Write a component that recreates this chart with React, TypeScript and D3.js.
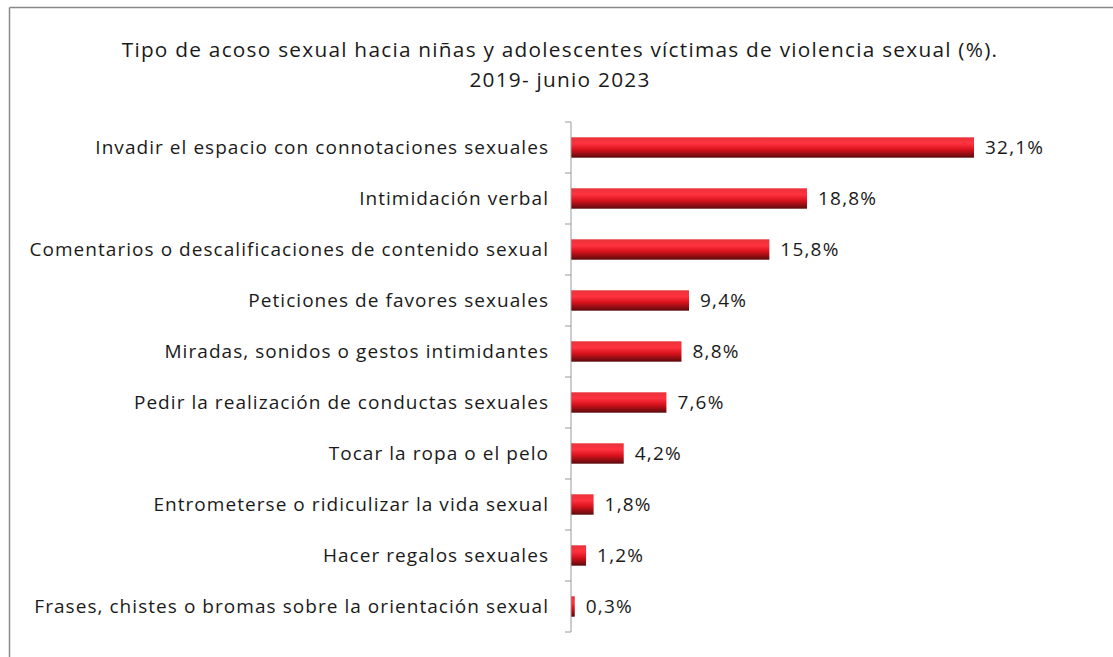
import React from "react";
import * as d3 from "d3";

const categories = [
  "Invadir el espacio con connotaciones sexuales",
  "Intimidación verbal",
  "Comentarios o descalificaciones de contenido sexual",
  "Peticiones de favores sexuales",
  "Miradas, sonidos o gestos intimidantes",
  "Pedir la realización de conductas sexuales",
  "Tocar la ropa o el pelo",
  "Entrometerse o ridiculizar la vida sexual",
  "Hacer regalos sexuales",
  "Frases, chistes o bromas sobre la orientación sexual",
];
const values = [32.1, 18.8, 15.8, 9.4, 8.8, 7.6, 4.2, 1.8, 1.2, 0.3];
const titleLines = [
  "Tipo de acoso sexual hacia niñas y adolescentes víctimas de violencia sexual (%).",
  "2019- junio 2023",
];

const W = 1113;
const H = 657;
const axisX = 571;
const top = 122;
const bottom = 632;

export default function App() {
  const x = d3.scaleLinear().domain([0, 32.1]).range([axisX, 974]);
  const y = d3.scaleBand().domain(categories).range([top, bottom]).paddingInner(0.6).paddingOuter(0.3);
  const bandStep = (bottom - top) / categories.length;
  const ticks = d3.range(categories.length + 1).map((i) => top + i * bandStep);
  const fmt = (v: number) => d3.format(".1f")(v).replace(".", ",") + "%";

  return (
    <svg
      width={W}
      height={H}
      style={{ position: "absolute", left: 0, top: 0, background: "#fff" }}
    >
      <defs>
        <linearGradient id="barGrad" x1="0" y1="0" x2="0" y2="1">
          <stop offset="0%" stopColor="#e8323a" />
          <stop offset="30%" stopColor="#ff3340" />
          <stop offset="60%" stopColor="#d8121c" />
          <stop offset="100%" stopColor="#5a0a0c" />
        </linearGradient>
      </defs>
      <rect x={0} y={0} width={W} height={H} fill="#fff" />
      <line x1={9.5} y1={7.5} x2={W} y2={7.5} stroke="#8a8a8a" strokeWidth={1.5} />
      <line x1={9.5} y1={7.5} x2={9.5} y2={H} stroke="#8a8a8a" strokeWidth={1.5} />

      {titleLines.map((t, i) => (
        <text
          key={i}
          x={560}
          y={57 + i * 30}
          textAnchor="middle"
          fontFamily="'Open Sans', sans-serif"
          fontSize={20.8}
          letterSpacing={1.25}
          fill="#1a1a1a"
        >
          {t}
        </text>
      ))}

      {ticks.map((t, i) => (
        <line key={i} x1={axisX - 6} x2={axisX} y1={t} y2={t} stroke="#9a9a9a" strokeWidth={1} />
      ))}

      {categories.map((c, i) => {
        const yy = y(c)!;
        const w = x(values[i]) - x(0);
        return (
          <g key={c}>
            <rect x={axisX} y={yy} width={Math.max(w, 2)} height={y.bandwidth()} fill="url(#barGrad)" />
            <text
              x={549}
              y={yy + y.bandwidth() / 2}
              dy="0.35em"
              textAnchor="end"
              fontFamily="'Open Sans', sans-serif"
              fontSize={19}
              letterSpacing={1.05}
              fill="#1a1a1a"
            >
              {c}
            </text>
            <text
              x={x(values[i]) + 11}
              y={yy + y.bandwidth() / 2}
              dy="0.35em"
              fontFamily="'Open Sans', sans-serif"
              fontSize={19}
              letterSpacing={1.2}
              fill="#1a1a1a"
            >
              {fmt(values[i])}
            </text>
          </g>
        );
      })}
      <line x1={axisX} x2={axisX} y1={top} y2={bottom} stroke="#9a9a9a" strokeWidth={1} />
    </svg>
  );
}
